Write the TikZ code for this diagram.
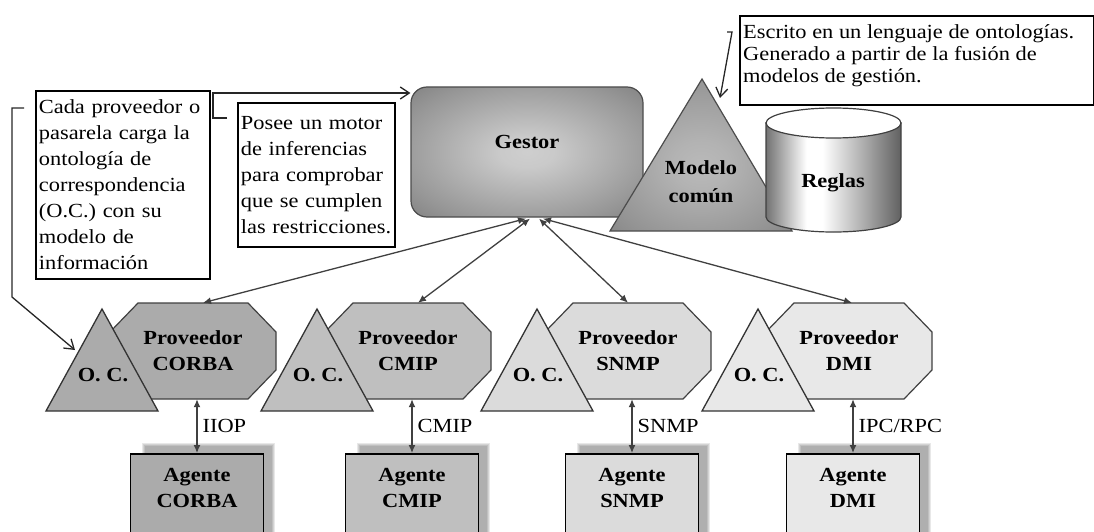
\documentclass[tikz,border=0pt]{standalone}
\usepackage{fontspec}
\usepackage{graphicx}
\setmainfont{Liberation Serif}[FakeStretch=1.12]
\newfontfamily\lblfont{Liberation Serif}
\newcommand{\bx}[1]{\scalebox{1.12}[1]{#1}}
\usetikzlibrary{arrows.meta,calc}
\pgfdeclarehorizontalshading{cylshade}{100bp}{color(0bp)=(black!55); color(25bp)=(black!55); color(40bp)=(white); color(46bp)=(white); color(75bp)=(black!62); color(100bp)=(black!62)}
\pgfdeclareradialshading{gestshade}{\pgfpointorigin}{color(0bp)=(black!19); color(6bp)=(black!21); color(28bp)=(black!41); color(36bp)=(black!49); color(50bp)=(black!49)}
\pgfdeclareradialshading{modshade}{\pgfpoint{0bp}{-4bp}}{color(0bp)=(black!27); color(8bp)=(black!30); color(28bp)=(black!42); color(40bp)=(black!50); color(50bp)=(black!50)}
\colorlet{g1}{black!33}
\colorlet{g2}{black!25}
\colorlet{g3}{black!14}
\colorlet{g4}{black!9}
\newcommand{\ipcrpc}{IPC/RPC}
\begin{document}
\begin{tikzpicture}[x=1pt,y=-1pt,
  every node/.style={font=\fontsize{20}{26}\selectfont},
  anno/.style={draw=black, line width=1.8pt, fill=white, inner ysep=0pt, inner xsep=3pt, align=left, anchor=north west},
  annotext/.style={align=left, inner sep=0pt, anchor=north west, font=\fontsize{20}{22}\selectfont},
  lbl/.style={font=\fontsize{20}{26}\lblfont\bfseries, align=center, inner sep=0pt},
  note/.style={draw=black!85, line width=1.3pt, -{Straight Barb[length=9pt,width=12pt]}},
  link/.style={draw=black!75, line width=1.3pt, {Latex[length=8pt,width=7pt]}-{Latex[length=8pt,width=7pt]}},
  shapeline/.style={draw=black!75, line width=1.2pt},
  proto/.style={font=\fontsize{20}{26}\selectfont, inner sep=0pt, anchor=west}
]
\useasboundingbox (0,0) rectangle (1094,532);

% Gestor
\node[draw=black!70, line width=1.2pt, rounded corners=16pt, minimum width=232, minimum height=130,
      shading=gestshade] (gestor) at (527,152) {};
\node[lbl] (gestortext) at (527,142) {\bx{Gestor}};

% Modelo comun
\path[draw=black!70, line width=1.2pt, shading=modshade]
  (702,79) -- (792,231) -- (610,231) -- cycle;
\node[lbl] (modelo) at (701,182) {\bx{Modelo}\\[2pt]\bx{común}};

% Reglas
\path[draw=black!75, line width=1.2pt, shading=cylshade]
  (766,123) -- (766,217) arc[start angle=180, end angle=0, x radius=67.5, y radius=15] -- (901,123) -- cycle;
\filldraw[draw=black!75, line width=1.2pt, fill=white] (833.5,123) ellipse [x radius=67.5, y radius=15];
\node[lbl] (reglas) at (833,183) {\bx{Reglas}};

% Gestor attachment points
\coordinate (gb1) at ($(gestor.south)+(-1,1)$);
\coordinate (gb2) at ($(gestor.south)+(3,1)$);
\coordinate (gb3) at ($(gestor.south)+(12,1)$);
\coordinate (gb4) at ($(gestor.south)+(16,1)$);

% Groups
\foreach \c/\col/\n/\lab/\proto/\tx in {197/g1/1/CORBA/IIOP/10, 412/g2/2/CMIP/CMIP/10, 632/g3/3/SNMP/SNMP/0, 853/g4/4/DMI/\ipcrpc/3}{
  % octagon
  \filldraw[shapeline, fill=\col] (\c-59,303) -- (\c+51,303) -- (\c+79,332) -- (\c+79,370) -- (\c+51,399) -- (\c-59,399) -- (\c-87,370) -- (\c-87,332) -- cycle;
  \node[lbl, minimum width=166, minimum height=96] (prov\n) at (\c-4,351) {\bx{Proveedor}\\\bx{\lab}};
  % O.C. triangle
  \filldraw[draw=black!80, line width=1.3pt, fill=\col] (\c-95,309) -- (\c-39,411) -- (\c-151,411) -- cycle;
  \node[lbl] (oc\n) at (\c-94,375) {\bx{O. C.}};
  % shadow of agente
  \foreach \k in {0,1,2,3}{
    \fill[black, opacity=0.09] (\c-55+\k,443+\k) rectangle (\c+78-\k,570);
  }
  % agente
  \node[draw=black, line width=1.8pt, fill=\col, minimum width=133, minimum height=120, anchor=north, inner sep=0pt] (ag\n) at (\c,453) {};
  \node[lbl, anchor=north] (agt\n) at ($(ag\n.north)+(0,15)$) {\bx{Agente}\\\bx{\lab}};
  % link proveedor - agente
  \draw[link] (ag\n.north |- prov\n.south) -- (ag\n.north) node[midway, proto, xshift=5pt] {\proto};
  % link gestor - proveedor
  \draw[link] (gb\n) -- ($(prov\n.north)+(\tx,0)$);
}

% Annotation boxes
\node[anno, text width=168, minimum height=188] (box1) at (35,90)
  {Cada proveedor o\\pasarela carga la\\ontología de\\correspondencia\\(O.C.) con su\\modelo de\\información};
\node[anno, text width=151, minimum height=144] (box2) at (237,102)
  {Posee un motor\\de inferencias\\para comprobar\\que se cumplen\\las restricciones.};
\node[anno, minimum width=354, minimum height=89] (box3) at (739,15) {};
\node[annotext] (box3text) at ($(box3.north west)+(4,9)$)
  {Escrito en un lenguaje de ontologías.\\Generado a partir de la fusión de\\modelos de gestión.};

% Annotation connectors
\coordinate (n1) at (24,108);
\coordinate (t1) at (75,350);
\draw[note] (n1) -- (12,108) -- (12,297) -- (t1);
\coordinate (n2) at (227,118);
\coordinate (c93) at (0,93);
\draw[note] (n2) -- (213,118) -- (213,93) -- (gestor.west |- c93);
\coordinate (n3) at (727,32);
\coordinate (t3) at (720,98);
\draw[note] (n3) -- (732,32) -- (t3);
\end{tikzpicture}
\end{document}
